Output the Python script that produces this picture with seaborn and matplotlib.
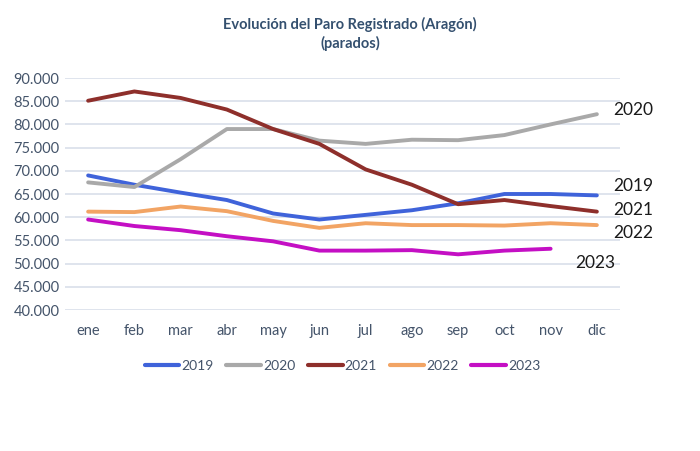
import matplotlib
matplotlib.use("Agg")
import matplotlib.pyplot as plt
import seaborn as sns
import pandas as pd
from matplotlib.ticker import FuncFormatter

months = ["ene", "feb", "mar", "abr", "may", "jun", "jul", "ago", "sep", "oct", "nov", "dic"]
y2019 = [69000, 67000, 65300, 63700, 60800, 59500, 60500, 61500, 63000, 65000, 65000, 64700]
y2020 = [67500, 66500, 72500, 79000, 79000, 76500, 75800, 76700, 76600, 77700, 80000, 82200]
y2021 = [85100, 87100, 85700, 83200, 79000, 75800, 70300, 67000, 62800, 63700, 62400, 61200]
y2022 = [61200, 61100, 62300, 61300, 59200, 57700, 58700, 58300, 58300, 58200, 58700, 58300]
y2023 = [59500, 58100, 57200, 55900, 54800, 52800, 52800, 52900, 52000, 52800, 53200]
years = ["2019", "2020", "2021", "2022", "2023"]
series = [y2019, y2020, y2021, y2022, y2023]
colors = ["#3F63DA", "#A9A9A9", "#8E2F2B", "#F2A464", "#C40FC4"]

rows = []
for yr, vals in zip(years, series):
    for i, v in enumerate(vals):
        rows.append({"mes": i, "año": yr, "parados": v})
df = pd.DataFrame(rows)

sns.set_theme(style="white")
plt.rcParams["font.family"] = ["Lato", "DejaVu Sans"]

fig = plt.figure(figsize=(7.0, 4.51), dpi=100)
ax = fig.add_axes([65/700, 1-310/451, 555/700, 232/451])

sns.lineplot(data=df, x="mes", y="parados", hue="año", palette=colors,
             linewidth=2.8, ax=ax, sort=False, legend=True)
for ln in ax.get_lines():
    ln.set_solid_joinstyle("round")
    ln.set_solid_capstyle("round")

ax.set_xlim(-0.5, 11.5)
ax.set_ylim(40000, 90000)
ax.set_yticks(range(40000, 90001, 5000))
ax.yaxis.set_major_formatter(FuncFormatter(lambda v, p: f"{int(v):,}".replace(",", ".")))
ax.set_xticks(range(12))
ax.set_xticklabels(months)
ax.grid(axis="y", color="#D9DFEA", linewidth=1.2)
ax.set_axisbelow(True)
for s in ax.spines.values():
    s.set_visible(False)
ax.tick_params(axis="both", length=0, labelsize=10.5, colors="#44546A")
ax.tick_params(axis="x", pad=10)
ax.tick_params(axis="y", pad=4)
ax.set_xlabel("")
ax.set_ylabel("")

# end labels
lab = [("2020", 11.35, 83100), ("2019", 11.35, 66700), ("2021", 11.35, 61550),
       ("2022", 11.35, 56600), ("2023", 10.53, 50100)]
for t, x, y in lab:
    ax.text(x, y, t, fontsize=12.5, color="#1a1a1a", ha="left", va="center", clip_on=False)

leg = ax.legend(loc="center", bbox_to_anchor=(0.5, (1-366/451 - (1-310/451)) / (232/451)),
                ncol=5, frameon=False, fontsize=10, handlelength=2.5, columnspacing=0.9,
                handletextpad=0.15)
for txt in leg.get_texts():
    txt.set_color("#44546A")
for h in leg.get_lines():
    h.set_linewidth(3)

fig.text(0.5, 1-24/451, "Evolución del Paro Registrado (Aragón)", ha="center", va="center",
         fontsize=10.5, fontweight="bold", color="#34506F")
fig.text(0.5, 1-43/451, "(parados)", ha="center", va="center",
         fontsize=10.5, fontweight="bold", color="#34506F")

fig.savefig("out.png", dpi=100, facecolor="white")
